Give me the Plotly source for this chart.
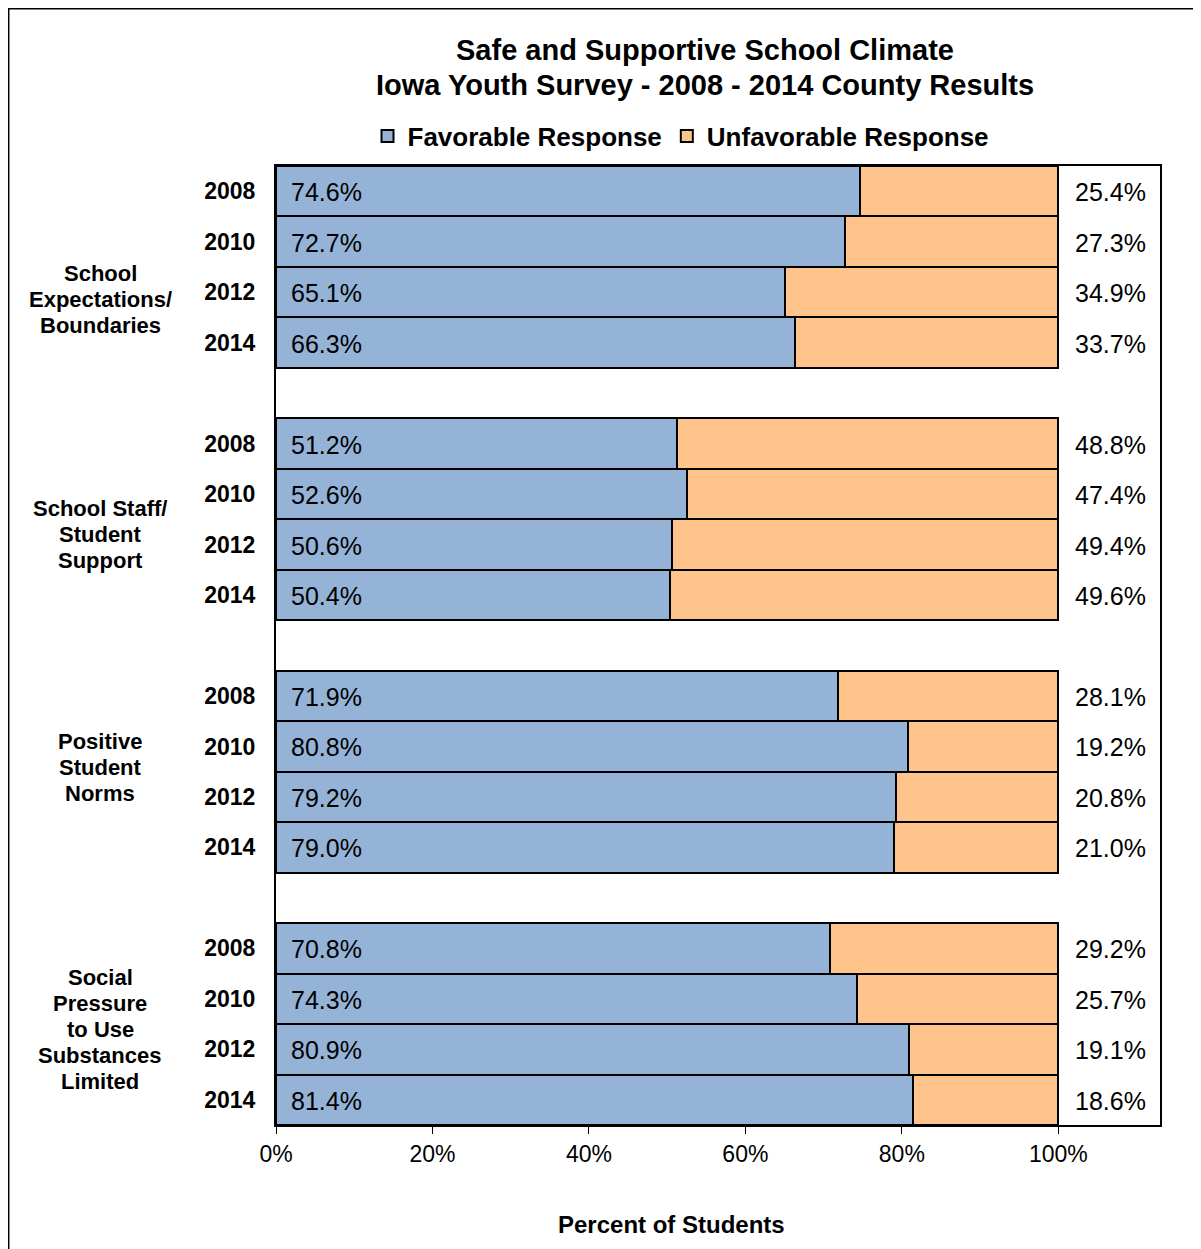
import plotly.graph_objects as go

groups = [["School", "Expectations/", "Boundaries"],
          ["School Staff/", "Student", "Support"],
          ["Positive", "Student", "Norms"],
          ["Social", "Pressure", "to Use", "Substances", "Limited"]]
years = ["2008", "2010", "2012", "2014"]
favorable = [74.6, 72.7, 65.1, 66.3,
             51.2, 52.6, 50.6, 50.4,
             71.9, 80.8, 79.2, 79.0,
             70.8, 74.3, 80.9, 81.4]
unfavorable = [25.4, 27.3, 34.9, 33.7,
               48.8, 47.4, 49.4, 49.6,
               28.1, 19.2, 20.8, 21.0,
               29.2, 25.7, 19.1, 18.6]
x_ticks = [0, 20, 40, 60, 80, 100]
title_lines = ["Safe and Supportive School Climate",
               "Iowa Youth Survey - 2008 - 2014 County Results"]

FONT = "Arial, 'Liberation Sans', sans-serif"
BLUE = "#95B3D7"
ORANGE = "#FFC48C"

W, H = 1193, 1241
L, R, T, B = 268, 41, 158, 124
PW, PH = W - L - R, H - T - B

def py(px_from_plot_top):
    return 1 - px_from_plot_top / PH

# slot positions: 4 bars per group with one empty slot between groups
ypos = [g * 5 + j for g in range(len(groups)) for j in range(len(years))]
yticktext = [years[j] for g in range(len(groups)) for j in range(len(years))]

fig = go.Figure()
fig.add_trace(go.Bar(
    y=ypos, x=favorable, orientation="h", name="Favorable Response",
    marker=dict(color=BLUE, line=dict(color="black", width=2)),
    width=1.0, hoverinfo="x"))
fig.add_trace(go.Bar(
    y=ypos, x=unfavorable, orientation="h", name="Unfavorable Response",
    marker=dict(color=ORANGE, line=dict(color="black", width=2)),
    width=1.0, hoverinfo="x"))

ann = []
for yp, f, u in zip(ypos, favorable, unfavorable):
    ann.append(dict(x=0, y=yp, xref="x", yref="y", text=f"{f:.1f}%", showarrow=False,
                    xanchor="left", xshift=13, yshift=-1,
                    font=dict(family=FONT, size=25, color="black")))
    ann.append(dict(x=f + u, y=yp, xref="x", yref="y", text=f"{u:.1f}%", showarrow=False,
                    xanchor="left", xshift=15, yshift=-1,
                    font=dict(family=FONT, size=25, color="black")))

group_offset = [33, 15, -4.6, 5]
for g, lines in enumerate(groups):
    n = len(lines)
    for k, line in enumerate(lines):
        off = group_offset[g] + (k - (n - 1) / 2) * 26
        ann.append(dict(x=(100 - 276) / PW, y=g * 5 + 1.5, xref="paper", yref="y", text=line,
                        showarrow=False, xanchor="center", yanchor="middle", yshift=-off,
                        font=dict(family=FONT, size=22, color="black", weight="bold")))

# title lines (centres at page y = 50 and 85; plot top at page y = 166)
for line, cy in zip(title_lines, [50, 85]):
    ann.append(dict(x=(705 - 276) / PW, y=py(cy - 166), xref="paper", yref="paper",
                    yanchor="middle", xanchor="center", text=line, showarrow=False,
                    font=dict(family=FONT, size=29, color="black", weight="bold")))
# x axis title
ann.append(dict(x=(671 - 276) / PW, y=py(1224 - 166), xref="paper", yref="paper",
                yanchor="middle", xanchor="center",
                text="Percent of Students", showarrow=False,
                font=dict(family=FONT, size=24, color="black", weight="bold")))

fig.update_layout(
    width=W, height=H,
    margin=dict(l=L, r=R, t=T, b=B),
    paper_bgcolor="white", plot_bgcolor="white",
    barmode="stack", bargap=0,
    showlegend=True,
    legend=dict(orientation="h", x=(681 - 276) / PW, xanchor="center",
                y=py(136 - 166), yanchor="middle",
                font=dict(family=FONT, size=26, color="black", weight="bold"),
                itemwidth=30, traceorder="normal", bgcolor="rgba(0,0,0,0)"),
    annotations=ann,
    xaxis=dict(range=[0, 113], tickvals=x_ticks, ticktext=[f"{v}%" for v in x_ticks],
               showgrid=False, zeroline=False, showline=True, linecolor="black", linewidth=2,
               mirror=True, ticks="outside", ticklen=7, tickcolor="black", tickwidth=1,
               tickfont=dict(family=FONT, size=23, color="black"), fixedrange=True),
    yaxis=dict(range=[18.5, -0.5], tickvals=ypos, ticktext=yticktext,
               showgrid=False, zeroline=False, showline=True, linecolor="black", linewidth=2,
               mirror=True, ticks="", ticklabelstandoff=14,
               tickfont=dict(family=FONT, size=23, color="black", weight="bold"), fixedrange=True),
    shapes=[dict(type="rect", xref="paper", yref="paper",
                 x0=-L / PW + 0.0008, x1=1.2, y0=-0.3, y1=1 + T / PH - 0.0008,
                 line=dict(color="black", width=1.5), fillcolor="rgba(0,0,0,0)", layer="below")],
)

fig.write_html("out.html")
